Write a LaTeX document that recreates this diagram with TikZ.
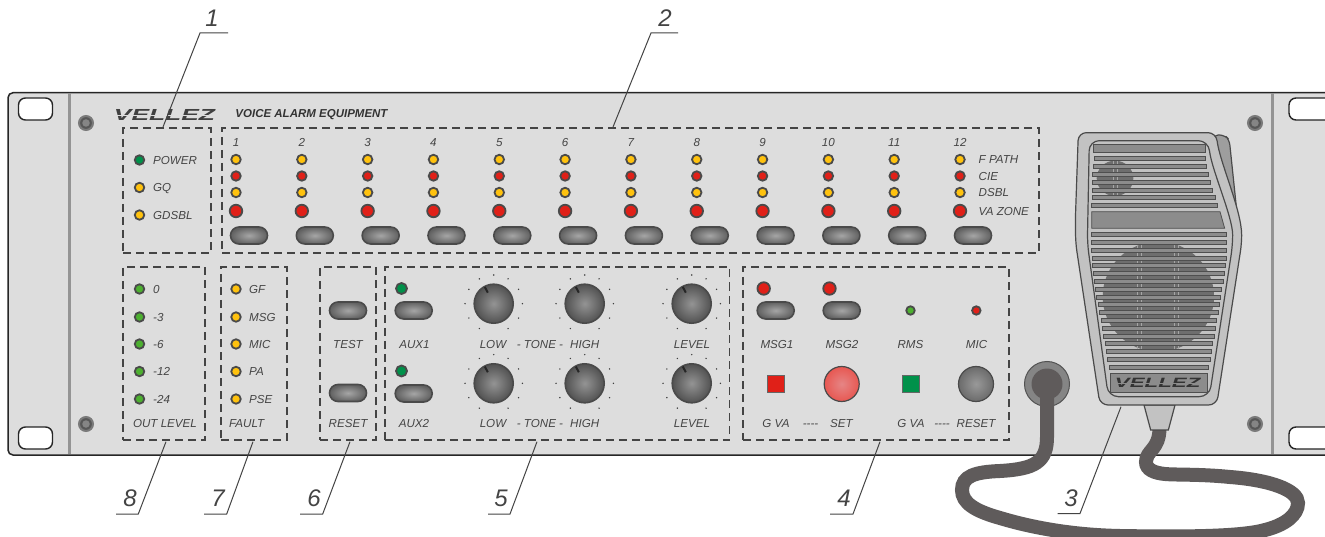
\documentclass[tikz,border=0pt]{standalone}
\usepackage{fontspec}
\setmainfont{Liberation Sans}
\usetikzlibrary{shapes.misc}
\definecolor{panelc}{HTML}{DDDDDD}
\definecolor{inkc}{HTML}{444444}
\definecolor{rimc}{HTML}{4A4A4A}
\definecolor{ledy}{HTML}{FFC20E}
\definecolor{ledr}{HTML}{E02018}
\definecolor{ledg}{HTML}{00914A}
\definecolor{ledl}{HTML}{4DB030}
\definecolor{cordc}{HTML}{5F5B5B}
\definecolor{micb}{HTML}{C2C2C2}
\definecolor{mics}{HTML}{8C8C8C}
\definecolor{micd}{HTML}{6E6E6E}
\definecolor{mile}{HTML}{4F4F4F}
\tikzset{
 lab/.style={font=\fontsize{11.6}{12}\selectfont\itshape,text=inkc,inner sep=0pt,text height=8.3pt,text depth=0pt},
 labl/.style={lab,anchor=west},
 num/.style={font=\fontsize{24}{24}\selectfont\itshape,text=inkc,inner sep=0pt},
 leader/.style={draw=inkc,line width=1pt},
 dbox/.style={draw=inkc,line width=1.3pt,dash pattern=on 8pt off 5pt,inner sep=0pt},
 led/.style={circle,draw=rimc,line width=1.8pt,inner sep=0pt,minimum size=#1},
 led/.default=9.5pt,
 ledy/.style={led,fill=ledy},
 ledr/.style={led,fill=ledr},
 ledg/.style={led,fill=ledg},
 ledl/.style={led,fill=ledl},
 bledr/.style={led=12.5pt,fill=ledr},
 bledg/.style={led=11pt,fill=ledg},
 sledl/.style={led=8.5pt,fill=ledl},
 sledr/.style={led=8.5pt,fill=ledr},
 btn/.style={rounded rectangle,draw=rimc,line width=1.6pt,minimum width=37pt,minimum height=17pt,inner sep=0pt,inner color=black!35,outer color=black!62},
 knob/.style={circle,draw=rimc,line width=1.6pt,minimum size=39pt,inner sep=0pt,inner color=black!42,outer color=black!68},
 screw/.style={circle,draw=black!52,line width=2pt,fill=black!66,minimum size=14pt,inner sep=0pt},
 screwin/.style={circle,fill=black!48,minimum size=7.5pt,inner sep=0pt},
 hole/.style={draw=black!85,line width=1.4pt,fill=white,rounded corners=7pt},
 slat/.style={draw=mile,line width=.8pt,fill=mics},
}
\begin{document}
\begin{tikzpicture}[x=1pt,y=-1pt]
\useasboundingbox (0,0) rectangle (1325,537);
\fill[white] (0,0) rectangle (1325,537);
% panel
\draw[fill=panelc,draw=black!85,line width=1.5pt,rounded corners=5pt] (1330,92.7) -- (8,92.7) -- (8,455) -- (1330,455);
\fill[black!42] (67.5,93.5) rectangle (70.5,454.3);
\fill[black!42] (1271,93.5) rectangle (1274,454.3);
\draw[hole] (18.5,98) rectangle (52.5,120);
\draw[hole] (18.5,427) rectangle (52.5,449);
\draw[hole] (1289,98) rectangle (1340,120);
\draw[hole] (1289,427) rectangle (1340,449);
\foreach \i/\x/\y in {a/86/123,b/86/424,c/1255/123,d/1255/424}{
  \node[screw] (sc\i) at (\x,\y) {};
  \node[screwin] (si\i) at (\x,\y) {};
}
% logo and title
\node[inner sep=0pt,text=black!75] (logo) at (164.5,115) {\scalebox{1.65}[1]{\fontsize{16}{16}\selectfont\bfseries\itshape VELLEZ}};
\draw[panelc,line width=.8pt] (112,115) -- (218,115);
\node[inner sep=0pt,text=black!80,font=\fontsize{11.5}{12}\selectfont\bfseries\itshape] (title) at (311.5,115) {VOICE ALARM EQUIPMENT};
% dashed boxes
\node[dbox,minimum width=88pt,minimum height=125pt] (b1) at (167,190.5) {};
\node[dbox,minimum width=817pt,minimum height=125pt] (b2) at (630.5,190.5) {};
\node[dbox,minimum width=82pt,minimum height=173pt] (b8) at (164,353.5) {};
\node[dbox,minimum width=66pt,minimum height=173pt] (b7) at (254,353.5) {};
\node[dbox,minimum width=56pt,minimum height=173pt] (b6) at (348,353.5) {};
\node[dbox,minimum width=344.5pt,minimum height=173pt] (b5) at (557.2,353.5) {};
\node[dbox,minimum width=266pt,minimum height=173pt] (b4) at (876,353.5) {};
% box 1
\foreach \i/\y/\s/\t in {a/160/ledg/POWER,b/187.5/ledy/GQ,c/215/ledy/GDSBL}{
  \node[\s] (p\i) at (139.5,\y) {};
  \node[labl] (pt\i) at (153,\y) {\t};
}
% box 2
\foreach \n in {1,...,12}{
  \pgfmathsetmacro\cx{236+65.82*(\n-1)}
  \node[lab] (zn\n) at (\cx,142) {\n};
  \node[ledy] (za\n) at (\cx,159.5) {};
  \node[ledr] (zb\n) at (\cx,176) {};
  \node[ledy] (zc\n) at (\cx,192.5) {};
  \node[bledr] (zd\n) at (\cx,211) {};
  \node[btn] (ze\n) at (\cx+13,235.5) {};
}
\foreach \i/\y/\t in {a/159.5/F PATH,b/176/CIE,c/192.5/DSBL,d/211/VA ZONE}
  \node[labl] (zt\i) at (978.5,\y) {\t};
% box 8
\foreach \i/\y/\t in {a/289/0,b/317/-3,c/344/-6,d/371.5/-12,e/399/-24}{
  \node[ledl] (o\i) at (139.5,\y) {};
  \node[labl] (ot\i) at (153,\y) {\t};
}
\node[lab] (ol) at (165,423.6) {OUT LEVEL};
% box 7
\foreach \i/\y/\t in {a/289/GF,b/317/MSG,c/344/MIC,d/371.5/PA,e/399/PSE}{
  \node[ledy] (f\i) at (236,\y) {};
  \node[labl] (ft\i) at (249,\y) {\t};
}
\node[labl] (fl) at (229,423.6) {FAULT};
% box 6
\node[btn] (tb) at (348,310.5) {};
\node[lab] (tt) at (348,344) {TEST};
\node[btn] (rb) at (348,393) {};
\node[lab] (rt) at (348,423.6) {RESET};
% box 5
\node[bledg] (a1l) at (401.5,288.5) {};
\node[btn] (a1b) at (413.7,310.5) {};
\node[lab] (a1t) at (414.5,344) {AUX1};
\node[bledg] (a2l) at (401.5,371) {};
\node[btn] (a2b) at (413.7,393.5) {};
\node[lab] (a2t) at (414,423.6) {AUX2};
\foreach \r/\y/\ty in {u/303.7/344,d/383.3/423.6}{
  \foreach \k/\x in {a/493.7,b/584.7,c/691.7}{
    \node[knob] (k\k\r) at (\x,\y) {};
    \draw[black!85,line width=2pt] (\x,\y) ++(-118:12.5) -- ++(-118:6.5);
    \foreach \ang in {0,30,60,120,150,180,210,240,270,300,330}
      \fill[black!75] (\x,\y) ++(\ang:28.7) circle (.8);
  }
  \node[lab] (tl\r) at (493,\ty) {LOW};
  \node[lab] (tm\r) at (540,\ty) {- TONE -};
  \node[lab] (th\r) at (584.7,\ty) {HIGH};
  \node[lab] (tv\r) at (692,\ty) {LEVEL};
}
% box 4
\node[bledr] (m1l) at (763.7,288.5) {};
\node[bledr] (m2l) at (829.5,288.5) {};
\node[btn] (m1b) at (775.7,310.5) {};
\node[btn] (m2b) at (841.7,310.5) {};
\node[sledl] (rml) at (910.5,310.5) {};
\node[sledr] (mil) at (976.3,310.5) {};
\node[lab] (m1t) at (777,344) {MSG1};
\node[lab] (m2t) at (842,344) {MSG2};
\node[lab] (rmt) at (910.5,344) {RMS};
\node[lab] (mit) at (976.5,344) {MIC};
\node[draw=black!60,line width=1pt,fill=ledr,minimum size=17pt,inner sep=0pt] (sq1) at (776,384) {};
\node[circle,draw=rimc,line width=1.2pt,minimum size=35pt,inner sep=0pt,inner color=red!42!white!90!black,outer color=ledr!75!white] (set) at (841.7,384) {};
\node[draw=black!60,line width=1pt,fill=ledg,minimum size=17pt,inner sep=0pt] (sq2) at (910.5,384) {};
\node[circle,draw=rimc,line width=1.2pt,minimum size=35pt,inner sep=0pt,inner color=black!40,outer color=black!58] (rs) at (976,384) {};
\node[lab] (g1) at (776,423.6) {G VA};
\node[lab] (d1) at (810.5,423.6) {-{}-{}-{}-};
\node[lab] (st) at (841.5,423.6) {SET};
\node[lab] (g2) at (911,423.6) {G VA};
\node[lab] (d2) at (942,423.6) {-{}-{}-{}-};
\node[lab] (rst) at (976,423.6) {RESET};
% jack and cord
\node[circle,fill=black!48,draw=black!68,line width=1pt,minimum size=45pt,inner sep=0pt] (jo) at (1047,384) {};
\node[circle,fill=cordc,minimum size=31pt,inner sep=0pt] (ji) at (1047,384) {};
\coordinate (boot) at (1159.5,428);
\draw[cordc,line width=14pt] (ji.center) -- (1047,437)
  .. controls (1047,462) and (1035,469) .. (1000,471)
  .. controls (975,472) and (962,476) .. (962,490)
  .. controls (962,503) and (975,511) .. (1000,518)
  .. controls (1030,527) and (1070,535) .. (1120,536)
  .. controls (1180,537) and (1240,537) .. (1265,530)
  .. controls (1285,525) and (1298,515) .. (1298,503)
  .. controls (1298,490) and (1270,480) .. (1230,477)
  .. controls (1200,474) and (1175,475) .. (1165,474)
  .. controls (1155,473) and (1146,470) .. (1146,462)
  .. controls (1146,450) and (1159.5,450) .. (boot);
% microphone (coordinates of a 3x view)
\begin{scope}[shift={(1060,120)},x=.33333pt,y=-.33333pt]
\draw[fill=black!38,draw=rimc,line width=1.2pt,rounded corners=5pt] (460,44) -- (495,46) -- (508,60) -- (530,270) -- (470,200) -- cycle;
\draw[fill=micb,draw=rimc,line width=1.2pt] (252,855) -- (345,855) -- (325,930) -- (272,930) -- cycle;
\draw[fill=micb,draw=rimc,line width=1.2pt,rounded corners=8pt] (55,38) -- (468,38) .. controls (480,130) and (545,270) .. (545,370) -- (470,855) -- (120,855) -- (47,370) -- (46,300) -- cycle;
\draw[fill=micb,draw=rimc,line width=1.2pt,rounded corners=10pt] (88,62) -- (445,62) .. controls (455,150) and (518,290) .. (518,375) -- (448,830) -- (145,830) -- (82,370) -- cycle;
\fill[micd] (165,175) circle [x radius=55,y radius=53];
\begin{scope}
\clip (0,372) rectangle (600,690);
\fill[micd] (295,530) circle [x radius=167,y radius=165];
\end{scope}
\foreach \xa in {160,172}{\draw[black!35,line width=.7pt] (\xa,122) -- (\xa,228);}
\foreach \xa in {233,244,343,354}{\draw[black!35,line width=.7pt] (\xa,374) -- (\xa,690);}
\draw[slat] (100,74) rectangle (437,98);
\draw[slat] (95,275) -- (480,275) -- (494,325) -- (95,325) -- cycle;
\foreach \y/\a/\b in {115/102/437,139/100/440,163/98/445,186/98/452,210/98/458,233/97/465,256/95/473,343/94/498,367/94/498,390/94/498,414/97/498,437/98/496,461/100/492,484/103/489,507/107/484,531/110/481,554/114/478,578/118/474,601/124/470,625/127/466,648/130/462,671/135/458,695/138/454,718/142/450,742/147/446}
  \draw[slat] (\a,\y-6) rectangle (\b,\y+6);
\draw[slat,line width=1pt] (150,760) rectangle (442,818);
\node[inner sep=0pt,text=black!80] (micl) at (293,789) {\scalebox{1.65}[1]{\fontsize{13.5}{14}\selectfont\bfseries\itshape VELLEZ}};
\draw[mics,line width=.7pt] (165,789) -- (420,789);
\end{scope}
% leaders
\foreach \n/\tx/\ty/\ax/\ay/\bx/\by/\cx in {
 1/212/18/163/127/200/33/228,
 2/665/18/613/127/651/33/678,
 8/130/498/166/441.7/138.3/514/116,
 7/218/498/253/441.7/226.7/514/204,
 6/314/498/350/441.7/322.7/514/300,
 5/501/498/537/441.7/510/514/488,
 4/844/498/880/441.7/853/514/830,
 3/1071/498/1121/406.7/1080/513.5/1057.7}{
  \node[num] (n\n) at (\tx,\ty) {\n};
  \coordinate (la\n) at (\ax,\ay);
  \coordinate (lb\n) at (\bx,\by);
  \coordinate (lc\n) at (\cx,\by);
  \draw[leader] (la\n) -- (lb\n) -- (lc\n);
}
\end{tikzpicture}
\end{document}
